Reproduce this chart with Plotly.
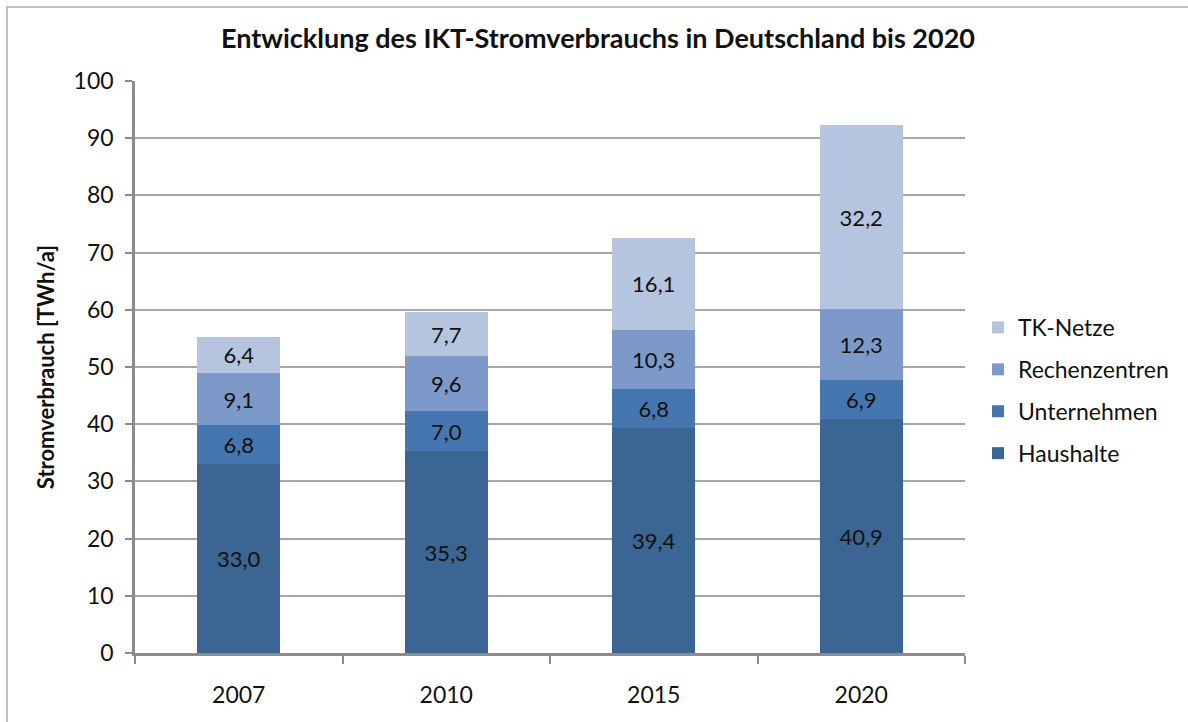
import plotly.graph_objects as go

years = ["2007", "2010", "2015", "2020"]
haushalte = [33.0, 35.3, 39.4, 40.9]
unternehmen = [6.8, 7.0, 6.8, 6.9]
rechenzentren = [9.1, 9.6, 10.3, 12.3]
tk_netze = [6.4, 7.7, 16.1, 32.2]

series = [
    ("Haushalte", haushalte, "#3b6593", 4),
    ("Unternehmen", unternehmen, "#4676b0", 3),
    ("Rechenzentren", rechenzentren, "#7c99c9", 2),
    ("TK-Netze", tk_netze, "#b5c4df", 1),
]

FONT = "Lato, 'Open Sans', sans-serif"

fig = go.Figure()
for name, vals, col, rank in series:
    fig.add_trace(go.Bar(
        x=years, y=vals, name=name, legendgroup=name, legendrank=rank,
        marker=dict(color=col, line=dict(width=0)),
        texttemplate="%{y:.1f}", textposition="inside", insidetextanchor="middle",
        textfont=dict(family=FONT, size=22, color="#111111"),
        width=0.4, hoverinfo="y+name",
    ))

# body margin is removed in the page, so screen pixels == figure pixels
W, H = 1188, 722
SL, SR, ST, SB = 135, 965, 81, 653  # plot area in screen pixels
L, T = SL, ST
R = W - SR
B = H - SB
pw, ph = SR - SL, SB - ST

def px(x):
    return (x - SL) / pw

def py(y):
    return (SB - y) / ph

fig.update_layout(
    width=W, height=H,
    barmode="stack",
    separators=",.",
    plot_bgcolor="white", paper_bgcolor="white",
    margin=dict(l=L, r=R, t=T, b=B, autoexpand=False),
    font=dict(family=FONT, color="#111111"),
    title=dict(text="<b>Entwicklung des IKT-Stromverbrauchs in Deutschland bis 2020</b>",
               x=598 / W, xref="container", xanchor="center",
               y=1 - 39 / H, yref="container", yanchor="middle",
               font=dict(size=27, family=FONT, color="#111111")),
    legend=dict(x=px(978), xanchor="left", y=py(306), yanchor="top",
                traceorder="grouped", tracegroupgap=9,
                font=dict(size=23, family=FONT, color="#111111"),
                itemwidth=30, bgcolor="rgba(0,0,0,0)"),
    showlegend=True,
)

fig.update_yaxes(
    range=[0, 100], dtick=10, showgrid=True, gridcolor="#a6a6a6", gridwidth=1.5,
    showline=True, linecolor="#8c8c8c", linewidth=2.5,
    ticks="outside", ticklen=7, tickcolor="#8c8c8c", tickwidth=2,
    tickfont=dict(size=23, family=FONT, color="#111111"),
    ticklabelstandoff=7, automargin=False,
    title=dict(text="<b>Stromverbrauch [TWh/a]</b>", standoff=13,
               font=dict(size=22, family=FONT, color="#111111")),
    zeroline=False,
)
fig.update_xaxes(
    showline=True, linecolor="#8c8c8c", linewidth=2.5,
    ticks="outside", tickson="boundaries", ticklen=8, tickcolor="#8c8c8c", tickwidth=2,
    tickfont=dict(size=23, family=FONT, color="#111111"),
    ticklabelstandoff=20, automargin=False,
    range=[-0.5, 3.5],
)

fig.add_shape(type="rect", xref="paper", yref="paper",
              x0=px(7), x1=px(1260), y0=py(780), y1=py(7),
              line=dict(color="#bfbfbf", width=2), fillcolor="rgba(0,0,0,0)", layer="below")

fig.write_html("out.html", config={"displayModeBar": False},
               post_script="document.body.style.margin='0px';document.body.style.overflow='hidden';")
